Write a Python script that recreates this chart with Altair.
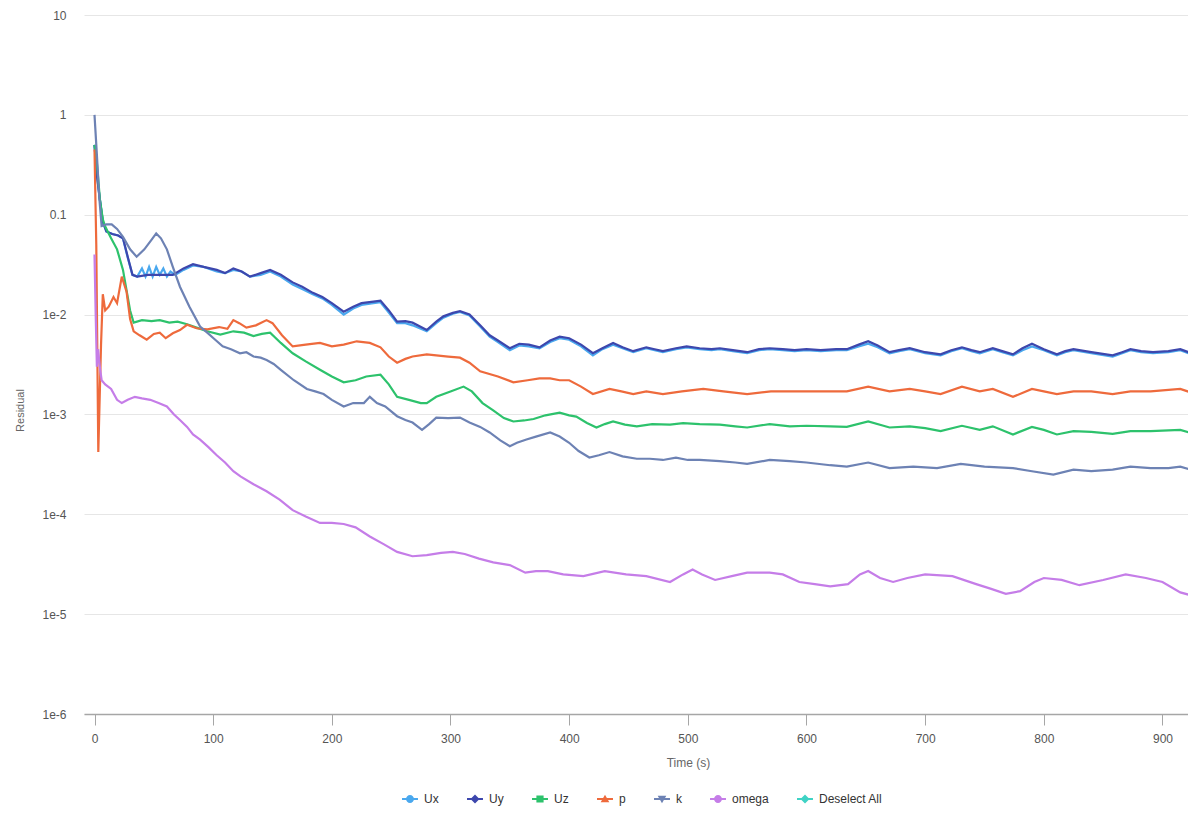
import altair as alt
import pandas as pd

# ---------------- data ----------------
SERIES = ["Ux", "Uy", "Uz", "p", "k", "omega", "Deselect All"]
COLORS = ["#4aa8ee", "#3d47ad", "#2dc26c", "#ee6a3c", "#6d82b4", "#c57de8", "#3fd3c5"]

UY_T = [0, 2, 4.6, 7, 10, 15, 20, 24, 28, 32, 36, 45, 55, 66, 75, 83, 92, 103, 110, 117, 124, 131, 140, 148,
        157, 167, 175, 184, 192, 200, 210, 218, 225, 235, 241, 248, 255, 262, 268, 280, 288, 294, 302, 308,
        316, 325, 333, 340, 350, 358, 366, 375, 384, 392, 400, 410, 420, 428, 437, 445, 454, 465, 472, 479,
        490, 499, 510, 520, 527, 538, 550, 560, 569, 580, 590, 600, 612, 625, 634, 644, 652, 660, 670, 678,
        687, 700, 713, 722, 731, 739, 746, 757, 765, 774, 782, 790, 800, 811, 818, 825, 840, 858, 866, 873,
        882, 892, 905, 915, 922, 928]
UY_V = [0.5, 0.25, 0.14, 0.085, 0.068, 0.064, 0.062, 0.058, 0.038, 0.025, 0.024, 0.025, 0.025, 0.025, 0.029,
        0.032, 0.030, 0.028, 0.026, 0.029, 0.027, 0.024, 0.026, 0.028, 0.025, 0.021, 0.019, 0.0165, 0.015,
        0.013, 0.0107, 0.012, 0.013, 0.0135, 0.0138, 0.011, 0.0085, 0.0086, 0.0083, 0.0070, 0.0085, 0.0096,
        0.0104, 0.0108, 0.0100, 0.0078, 0.0062, 0.0055, 0.0046, 0.0051, 0.0050, 0.0047, 0.0055, 0.0060,
        0.0058, 0.0050, 0.0041, 0.0046, 0.0052, 0.0047, 0.0043, 0.0047, 0.0045, 0.0043, 0.0046, 0.0048,
        0.0046, 0.0045, 0.0046, 0.0044, 0.0042, 0.0045, 0.0046, 0.0045, 0.0044, 0.0045, 0.0044, 0.0045,
        0.0045, 0.0050, 0.0054, 0.0049, 0.0042, 0.0044, 0.0046, 0.0042, 0.0040, 0.0044, 0.0047, 0.0044,
        0.0042, 0.0046, 0.0043, 0.0040, 0.0046, 0.0051, 0.0045, 0.0040, 0.0043, 0.0045, 0.0042, 0.0039,
        0.0042, 0.0045, 0.0043, 0.0042, 0.0043, 0.0045, 0.0042, 0.0039]

UX_T = [0, 2, 4.6, 7, 10, 15, 20, 24, 28, 32, 36, 40, 43, 46, 49, 52, 55, 58, 61, 64, 68, 75, 83, 92, 103,
        110, 117, 124, 131, 140, 148, 157, 167, 175, 184, 192, 200, 210, 218, 225, 235, 241, 248, 255, 262,
        268, 280, 288, 294, 302, 308, 316, 325, 333, 340, 350, 358, 366, 375, 384, 392, 400, 410, 420, 428,
        437, 445, 454, 465, 472, 479, 490, 499, 510, 520, 527, 538, 550, 560, 569, 580, 590, 600, 612, 625,
        634, 644, 652, 660, 670, 678, 687, 700, 713, 722, 731, 739, 746, 757, 765, 774, 782, 790, 800, 811,
        818, 825, 840, 858, 866, 873, 882, 892, 905, 915, 922, 928]
UX_V = [0.5, 0.25, 0.14, 0.085, 0.068, 0.064, 0.062, 0.058, 0.037, 0.025, 0.024, 0.029, 0.024, 0.030, 0.024,
        0.030, 0.025, 0.029, 0.024, 0.027, 0.025, 0.028, 0.031, 0.030, 0.027, 0.026, 0.028, 0.027, 0.024,
        0.025, 0.027, 0.024, 0.020, 0.018, 0.016, 0.0145, 0.0125, 0.0100, 0.0115, 0.0125, 0.013, 0.0133,
        0.0105, 0.0082, 0.0082, 0.0078, 0.0068, 0.0082, 0.0093, 0.0102, 0.0106, 0.0098, 0.0076, 0.0060,
        0.0053, 0.0044, 0.0049, 0.0048, 0.0046, 0.0053, 0.0058, 0.0056, 0.0048, 0.0039, 0.0045, 0.0050,
        0.0046, 0.0042, 0.0046, 0.0044, 0.0042, 0.0045, 0.0047, 0.0045, 0.0044, 0.0045, 0.0043, 0.0041,
        0.0044, 0.0045, 0.0044, 0.0043, 0.0044, 0.0043, 0.0044, 0.0044, 0.0048, 0.0051, 0.0047, 0.0041,
        0.0043, 0.0045, 0.0041, 0.0039, 0.0043, 0.0046, 0.0043, 0.0041, 0.0045, 0.0042, 0.0039, 0.0044,
        0.0048, 0.0044, 0.0039, 0.0042, 0.0044, 0.0041, 0.0038, 0.0041, 0.0044, 0.0042, 0.0041, 0.0042,
        0.0044, 0.0041, 0.0038]

UZ_T = [0, 2, 4.6, 7, 9, 14, 19, 24, 28, 30, 33, 40, 48, 55, 63, 70, 78, 86, 95, 106, 117, 126, 134, 141,
        148, 157, 167, 178, 190, 200, 210, 220, 229, 241, 248, 255, 265, 275, 280, 288, 300, 311, 318, 327,
        336, 345, 353, 362, 370, 380, 392, 400, 406, 415, 423, 430, 437, 447, 457, 470, 485, 496, 510, 527,
        540, 550, 569, 586, 600, 620, 634, 652, 670, 687, 700, 713, 731, 746, 757, 774, 790, 800, 811, 825,
        840, 858, 873, 890, 915, 928]
UZ_V = [0.5, 0.33, 0.14, 0.09, 0.076, 0.058, 0.045, 0.028, 0.015, 0.011, 0.0083, 0.0088, 0.0086, 0.0088,
        0.0083, 0.0085, 0.0080, 0.0074, 0.0068, 0.0063, 0.0068, 0.0066, 0.0061, 0.0064, 0.0066, 0.0052,
        0.0041, 0.0034, 0.0028, 0.0024, 0.0021, 0.0022, 0.0024, 0.0025, 0.0020, 0.0015, 0.0014, 0.0013,
        0.0013, 0.0015, 0.0017, 0.0019, 0.0017, 0.0013, 0.0011, 0.00092, 0.00085, 0.00087, 0.0009,
        0.00098, 0.00104, 0.00098, 0.00095, 0.00082, 0.00074, 0.0008, 0.00085, 0.00079, 0.00076, 0.0008,
        0.00079, 0.00082, 0.0008, 0.00079, 0.00076, 0.00074, 0.0008, 0.00076, 0.00077, 0.00076, 0.00075,
        0.00085, 0.00074, 0.00076, 0.00073, 0.00068, 0.00077, 0.0007, 0.00076, 0.00063, 0.00075, 0.0007,
        0.00063, 0.00068, 0.00067, 0.00064, 0.00068, 0.00068, 0.0007, 0.00063]

P_T = [0, 1.5, 3.2, 5.5, 7, 9, 12, 16, 19, 23, 27, 30, 33, 38, 44, 50, 55, 60, 66, 72, 78, 86, 95, 105, 112,
       117, 122, 128, 136, 145, 150, 158, 167, 178, 190, 200, 210, 221, 232, 241, 248, 255, 262, 268, 280,
       288, 298, 308, 316, 325, 340, 353, 365, 375, 384, 392, 400, 410, 420, 434, 444, 454, 465, 479, 495,
       513, 530, 550, 570, 586, 600, 620, 634, 652, 670, 687, 700, 713, 731, 746, 757, 774, 790, 800, 811,
       825, 840, 858, 873, 890, 915, 928]
P_V = [0.45, 0.05, 0.00042, 0.005, 0.016, 0.011, 0.012, 0.015, 0.013, 0.024, 0.017, 0.009, 0.0068, 0.0062,
       0.0056, 0.0064, 0.0066, 0.0058, 0.0065, 0.0070, 0.0079, 0.0073, 0.0071, 0.0075, 0.0072, 0.0088,
       0.0082, 0.0074, 0.0078, 0.0088, 0.0082, 0.0062, 0.0048, 0.0050, 0.0052, 0.0048, 0.0050, 0.0054,
       0.0052, 0.0047, 0.0038, 0.0033, 0.0036, 0.0038, 0.0040, 0.0039, 0.0038, 0.0037, 0.0033, 0.0027,
       0.0024, 0.0021, 0.0022, 0.0023, 0.0023, 0.0022, 0.0022, 0.0019, 0.0016, 0.0018, 0.0017, 0.0016,
       0.0017, 0.0016, 0.0017, 0.0018, 0.0017, 0.0016, 0.0017, 0.0017, 0.0017, 0.0017, 0.0017, 0.0019,
       0.0017, 0.0018, 0.0017, 0.0016, 0.0019, 0.0017, 0.0018, 0.0015, 0.0018, 0.0017, 0.0016, 0.0017,
       0.0017, 0.0016, 0.0017, 0.0017, 0.0018, 0.0016]

K_T = [0, 2, 4, 6, 10, 14.5, 19, 24, 30, 35.5, 42, 48, 52, 56, 61, 66, 72, 80, 89, 95, 101, 108, 115, 122.6,
       128, 134, 140, 145, 151, 157, 168, 179, 186, 193, 200, 210, 218, 227, 232, 238, 245, 255, 262, 268,
       276, 282, 288, 298, 308, 316, 325, 333, 342, 350, 356, 364, 372, 384, 392, 400, 408, 417, 425, 434,
       445, 457, 468, 479, 490, 500, 510, 527, 540, 550, 569, 586, 600, 620, 634, 652, 670, 690, 710, 730,
       750, 774, 790, 808, 825, 840, 858, 873, 890, 905, 915, 928]
K_V = [1.0, 0.4, 0.15, 0.077, 0.08, 0.08, 0.072, 0.06, 0.045, 0.038, 0.045, 0.056, 0.065, 0.058, 0.045, 0.03,
       0.019, 0.012, 0.0076, 0.0066, 0.0057, 0.0048, 0.0045, 0.0041, 0.0042, 0.0038, 0.0037, 0.0035,
       0.0032, 0.0028, 0.0022, 0.0018, 0.0017, 0.0016, 0.0014, 0.0012, 0.0013, 0.0013, 0.0015, 0.0013,
       0.0012, 0.00096, 0.00088, 0.00083, 0.0007, 0.0008, 0.00093, 0.00092, 0.00093, 0.00083, 0.00075,
       0.00066, 0.00055, 0.00048, 0.00052, 0.00056, 0.0006, 0.00066, 0.0006, 0.00052, 0.00043, 0.00037,
       0.00039, 0.00042, 0.00038, 0.00036, 0.00036, 0.00035, 0.00037, 0.00035, 0.00035, 0.00034, 0.00033,
       0.00032, 0.00035, 0.00034, 0.00033, 0.00031, 0.0003, 0.00033, 0.00029, 0.0003, 0.00029, 0.00032,
       0.0003, 0.00029, 0.00027, 0.00025, 0.00028, 0.00027, 0.00028, 0.0003, 0.00029, 0.00029, 0.0003,
       0.00027]

OM_T = [0, 1, 2, 3, 4.5, 6, 9, 14, 19, 23, 28, 34, 40, 47, 54, 61, 67, 72, 78, 83, 89, 96, 103, 110, 117,
        123, 134, 145, 156, 167, 178, 190, 200, 210, 220, 232, 244, 255, 268, 280, 292, 302, 312, 324, 336,
        350, 363, 372, 382, 395, 412, 430, 448, 465, 485, 496, 504, 512, 523, 537, 550, 569, 580, 594, 607,
        620, 635, 645, 652, 662, 673, 685, 700, 723, 743, 755, 768, 780, 792, 800, 815, 830, 850, 869, 886,
        900, 915, 928]
OM_V = [0.04, 0.01, 0.003, 0.0045, 0.003, 0.0022, 0.002, 0.0018, 0.0014, 0.0013, 0.0014, 0.0015, 0.00145,
        0.0014, 0.0013, 0.0012, 0.001, 0.00088, 0.00075, 0.00063, 0.00056, 0.00047, 0.00039, 0.00033,
        0.00027, 0.00024, 0.0002, 0.00017, 0.00014, 0.00011, 0.000095, 0.000082, 0.000082, 0.00008,
        0.000074, 0.00006, 0.00005, 0.000042, 0.000038, 0.000039, 0.000041, 0.000042, 0.00004, 0.000036,
        0.000033, 0.000031, 0.000026, 0.000027, 0.000027, 0.000025, 0.000024, 0.000027, 0.000025,
        0.000024, 0.000021, 0.000025, 0.000028, 0.000025, 0.000022, 0.000024, 0.000026, 0.000026,
        0.000025, 0.000021, 0.00002, 0.000019, 0.00002, 0.000025, 0.000027, 0.000023, 0.000021, 0.000023,
        0.000025, 0.000024, 0.00002, 0.000018, 0.000016, 0.000017, 0.000021, 0.000023, 0.000022,
        0.0000195, 0.000022, 0.000025, 0.000023, 0.000021, 0.0000165, 0.000015]

X_TICKS = [0, 100, 200, 300, 400, 500, 600, 700, 800, 900]
Y_TICKS = [10, 1, 0.1, 0.01, 0.001, 1e-4, 1e-5, 1e-6]

# legend symbols: a short line with a marker (Highcharts style); unit = 6 px
LINE = "M-1.33,-0.17H1.33V0.17H-1.33Z"
CIRCLE = "M0.66,0A0.66,0.66 0 1 1 -0.66,0A0.66,0.66 0 1 1 0.66,0Z"
DIAMOND = "M0,-0.75L0.75,0L0,0.75L-0.75,0Z"
SQUARE = "M-0.6,-0.6H0.6V0.6H-0.6Z"
TRI_UP = "M0,-0.72L0.72,0.55H-0.72Z"
TRI_DOWN = "M-0.72,-0.55H0.72L0,0.72Z"
SHAPES = [LINE + CIRCLE, LINE + DIAMOND, LINE + SQUARE, LINE + TRI_UP, LINE + TRI_DOWN,
          LINE + CIRCLE, LINE + DIAMOND]

# ---------------- build long table ----------------
frames = []
for name, ts, vs in [("Ux", UX_T, UX_V), ("Uy", UY_T, UY_V), ("Uz", UZ_T, UZ_V), ("p", P_T, P_V),
                     ("k", K_T, K_V), ("omega", OM_T, OM_V)]:
    frames.append(pd.DataFrame({"t": ts, "v": vs, "series": name, "order": SERIES.index(name)}))
df = pd.concat(frames, ignore_index=True)

FONT = "Liberation Sans"

x_axis = alt.Axis(values=X_TICKS, title="Time (s)", grid=False, domain=True,
                  domainColor="#a6a6a6", domainWidth=1.5, ticks=True, tickColor="#a6a6a6",
                  tickSize=11, tickWidth=1, labelFontSize=12, labelColor="#555555",
                  labelPadding=8, labelFont=FONT, titleFont=FONT, titleFontSize=12,
                  titleFontWeight="normal", titleColor="#666666", titleX=604, titleY=43)
y_axis = alt.Axis(values=Y_TICKS, title="Residual", grid=True, gridColor="#e6e6e6",
                  domain=False, ticks=False, labelFontSize=12, labelColor="#555555",
                  labelFont=FONT, labelPadding=18,
                  labelExpr="datum.value >= 0.1 ? toString(datum.value) : '1e' + round(log(datum.value)/LN10)",
                  titleFont=FONT, titleFontSize=11, titleFontWeight="normal",
                  titleColor="#666666", titleX=-64, titleY=395, titleBaseline="middle")

x_enc = alt.X("t:Q", scale=alt.Scale(domain=[-8.85, 921.5], nice=False, zero=False), axis=x_axis)
y_enc = alt.Y("v:Q", scale=alt.Scale(type="log", domain=[1e-6, 10], nice=False), axis=y_axis)

color_scale = alt.Scale(domain=SERIES, range=COLORS)
legend = alt.Legend(title=None, orient="none", legendX=320, legendY=778,
                    direction="horizontal", columns=7, symbolSize=144,
                    symbolOpacity=1, symbolStrokeWidth=0, labelFont=FONT,
                    labelFontSize=12, labelColor="#333333", labelOffset=8,
                    columnPadding=28)

lines = alt.Chart(df).mark_line(strokeWidth=2.2, clip=True).encode(
    x=x_enc, y=y_enc,
    color=alt.Color("series:N", scale=color_scale, legend=legend),
    order=alt.Order("order:Q"),
    detail="series:N",
)

legend_pts = alt.Chart(df).mark_point(filled=True, size=0, opacity=0, strokeWidth=0).encode(
    x=x_enc, y=y_enc,
    color=alt.Color("series:N", scale=color_scale, legend=legend),
    shape=alt.Shape("series:N", scale=alt.Scale(domain=SERIES, range=SHAPES), legend=legend),
)

chart = alt.layer(lines, legend_pts).properties(
    width=1104, height=699,
    background="#ffffff",
    autosize=alt.AutoSizeParams(type="none"),
    padding={"left": 76, "top": 7, "right": 0, "bottom": 92},
).configure_view(stroke=None)

chart.save("out.html", embed_options={"renderer": "svg", "actions": False})
